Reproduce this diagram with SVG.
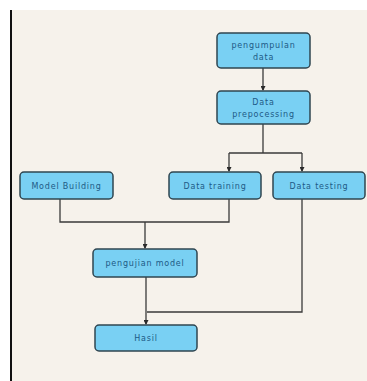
<svg xmlns="http://www.w3.org/2000/svg" width="367" height="381" viewBox="0 0 367 381">
<style>
.box{fill:#79d0f3;stroke:#2f4550;stroke-width:1.5}
.lbl{font-family:"DejaVu Sans",sans-serif;font-size:8px;fill:#1d5a86;text-anchor:middle;letter-spacing:0.8px}
.con{fill:none;stroke:#3a3a3a;stroke-width:1.3}
</style>
<defs>
<marker id="ah" markerWidth="5" markerHeight="5" refX="4" refY="2.5" orient="auto" markerUnits="userSpaceOnUse">
<path d="M0,0 L5,2.5 L0,5 Z" fill="#2a2a2a"/>
</marker>
</defs>
<rect x="0" y="0" width="367" height="381" fill="#ffffff"/>
<rect x="11" y="10" width="356" height="371" fill="#f6f2eb"/>
<line x1="11" y1="10" x2="11" y2="381" stroke="#111" stroke-width="2"/>
<g id="connectors">
<path class="con" d="M263,68 V90" marker-end="url(#ah)"/>
<path class="con" d="M263,124 V153"/>
<path class="con" d="M229,153 H302"/>
<path class="con" d="M229,153 V171" marker-end="url(#ah)"/>
<path class="con" d="M302,153 V171" marker-end="url(#ah)"/>
<path class="con" d="M60,199 V222 H229 V199"/>
<path class="con" d="M145,222 V248" marker-end="url(#ah)"/>
<path class="con" d="M302,199 V312 H147"/>
<path class="con" d="M146,277 V324" marker-end="url(#ah)"/>
</g>
<g id="pengumpulan">
<rect class="box" x="217" y="33" width="93" height="35" rx="4"/>
<text class="lbl" x="263.5" y="48">pengumpulan</text>
<text class="lbl" x="263.5" y="60">data</text>
</g>
<g id="preprocessing">
<rect class="box" x="217" y="91" width="93" height="33" rx="4"/>
<text class="lbl" x="263.5" y="105">Data</text>
<text class="lbl" x="263.5" y="117">prepocessing</text>
</g>
<g id="modelbuilding">
<rect class="box" x="20" y="172" width="93" height="27" rx="4"/>
<text class="lbl" x="66.5" y="188.5">Model Building</text>
</g>
<g id="datatraining">
<rect class="box" x="169" y="172" width="92" height="27" rx="4"/>
<text class="lbl" x="215" y="188.5">Data training</text>
</g>
<g id="datatesting">
<rect class="box" x="273" y="172" width="92" height="27" rx="4"/>
<text class="lbl" x="319" y="188.5">Data testing</text>
</g>
<g id="pengujian">
<rect class="box" x="93" y="249" width="104" height="28" rx="4"/>
<text class="lbl" x="145" y="266">pengujian model</text>
</g>
<g id="hasil">
<rect class="box" x="95" y="325" width="102" height="26" rx="4"/>
<text class="lbl" x="146" y="341">Hasil</text>
</g>
</svg>
